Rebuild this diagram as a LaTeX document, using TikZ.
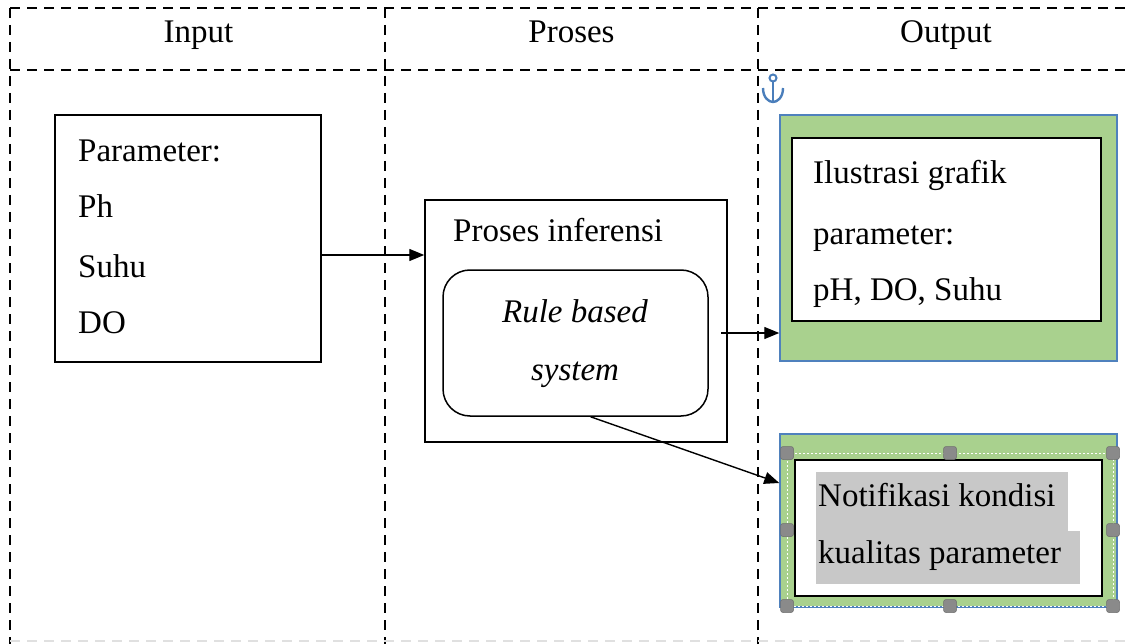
\documentclass[tikz,border=0pt]{standalone}
\usepackage{fontspec}
\setmainfont{Liberation Serif}
\usetikzlibrary{arrows.meta}
\definecolor{gfill}{HTML}{A9D18E}
\definecolor{gedge}{HTML}{4F81BD}
\definecolor{hlgray}{HTML}{C8C8C8}
\definecolor{handlegray}{HTML}{8A8A8A}
\definecolor{anchorblue}{HTML}{4A7EBB}
\tikzset{
  tbl/.style={draw=black, line width=1.5pt, dash pattern=on 10pt off 7pt},
  boxnode/.style={draw=black, line width=1.5pt, inner sep=0pt, fill=white},
  greenbox/.style={draw=gedge, line width=1.5pt, fill=gfill, inner sep=0pt},
  txt/.style={anchor=base west, inner sep=0pt},
  ctxt/.style={anchor=base, inner sep=0pt},
  arr/.style={draw=black, line width=1.4pt, -{Triangle[length=15pt,width=12pt]}},
  handlebox/.style={fill=handlegray, draw=handlegray!80!black, line width=0.5pt, rounded corners=2.5pt, minimum size=13pt, inner sep=0pt},
}
\begin{document}
\begin{tikzpicture}[x=1pt,y=-1pt,font=\fontsize{33}{40}\selectfont]
\useasboundingbox (0,0) rectangle (1126,644);
% table grid
\draw[tbl] (10,8) -- (1126,8);
\draw[tbl] (10,70) -- (1126,70);
\draw[tbl] (10,8) -- (10,644);
\draw[tbl] (385,8) -- (385,644);
\draw[tbl] (758,8) -- (758,644);
\draw[tbl, draw=black!12] (10,641) -- (1126,641);
% headers
\node[ctxt] (hin) at (198.5,43) {Input};
\node[ctxt] (hpr) at (571.5,43) {Proses};
\node[ctxt] (hout) at (946,43) {Output};
% anchor icon
\draw[anchorblue, line width=2pt] (773,78) circle (3.5pt);
\draw[anchorblue, line width=2.4pt] (773,82) -- (773,101);
\draw[anchorblue, line width=2.4pt] (763,88) .. controls (763,98) and (769,102) .. (773,102) .. controls (777,102) and (783,98) .. (783,88);
% input box
\node[boxnode, minimum width=266pt, minimum height=247pt] (inp) at (188,238.5) {};
\node[txt] (p1) at (78,162) {Parameter:};
\node[txt] (p2) at (78,218) {Ph};
\node[txt] (p3) at (78,277) {Suhu};
\node[txt] (p4) at (78,333) {DO};
% proses box
\node[boxnode, minimum width=302pt, minimum height=242pt] (pro) at (576,321) {};
\node[txt] (pinf) at (453,242) {Proses inferensi};
\node[boxnode, rounded corners=27pt, minimum width=265pt, minimum height=146pt] (rbs) at (575.5,343) {};
\node[ctxt] (r1) at (575,322) {\itshape Rule based};
\node[ctxt] (r2) at (575,380) {\itshape system};
% output 1
\node[greenbox, minimum width=337pt, minimum height=246pt] (g1) at (948.5,238) {};
\node[boxnode, minimum width=309pt, minimum height=183pt] (w1) at (946.5,229.5) {};
\node[txt] (o1) at (813,184) {Ilustrasi grafik};
\node[txt] (o2) at (813,244) {parameter:};
\node[txt] (o3) at (813,300) {pH, DO, Suhu};
% output 2
\node[greenbox, minimum width=337pt, minimum height=173pt] (g2) at (948.5,520.5) {};
\draw[white, line width=1pt, dash pattern=on 2pt off 2pt] (787,453) rectangle (1113,606);
\node[boxnode, line width=2.2pt, minimum width=307pt, minimum height=136pt] (w2) at (948.5,528) {};
\fill[hlgray] (816,472) rectangle (1068,531);
\fill[hlgray] (816,531) rectangle (1080,584);
\node[txt] (n1) at (818,506) {Notifikasi kondisi};
\node[txt] (n2) at (818,563) {kualitas parameter};
\foreach \hx/\hy [count=\i] in {787/453,950/453,1113/453,787/530,1113/530,787/606,950/606,1113/606}
  \node[handlebox] (h\i) at (\hx,\hy) {};
% connectors
\coordinate (a2s) at (721,333);
\draw[arr] (inp.east |- 0,255) -- (pro.west |- 0,255);
\draw[arr] (a2s) -- (g1.west |- a2s);
\draw[arr] ([xshift=15pt]rbs.south) -- ([yshift=37.5pt]g2.west);
\end{tikzpicture}
\end{document}
